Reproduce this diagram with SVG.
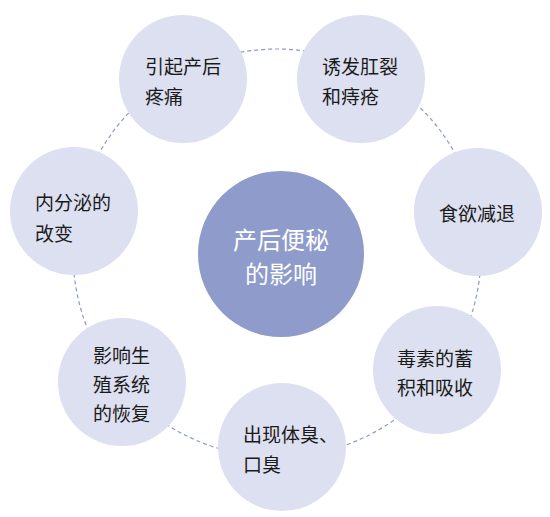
<svg xmlns="http://www.w3.org/2000/svg" width="550" height="517" viewBox="0 0 550 517">
<style>
.ring{fill:none;stroke:#8f99c9;stroke-width:1.2;stroke-dasharray:4 3}
.node{fill:#dde0f0}
.hub{fill:#8e9bcb}
.t{font-family:"Noto Sans CJK SC","Noto Sans",sans-serif;font-size:19px;fill:#1a1a1a;dominant-baseline:central}
.h{font-family:"Noto Sans CJK SC","Noto Sans",sans-serif;font-size:24px;fill:#ffffff;text-anchor:middle;dominant-baseline:central}
</style>
<rect width="550" height="517" fill="#ffffff"/>
<g id="connectors">
<circle class="ring" cx="277" cy="253" r="204"/>
</g>
<g id="center">
<circle class="hub" cx="281" cy="254" r="83"/>
<text class="h" x="281" y="238">产后便秘</text>
<text class="h" x="281" y="272">的影响</text>
</g>
<g id="n1">
<circle class="node" cx="183" cy="79" r="64"/>
<text class="t" x="145" y="65">引起产后</text>
<text class="t" x="145" y="95">疼痛</text>
</g>
<g id="n2">
<circle class="node" cx="361" cy="79" r="64"/>
<text class="t" x="322" y="65">诱发肛裂</text>
<text class="t" x="322" y="95">和痔疮</text>
</g>
<g id="n3">
<circle class="node" cx="478" cy="212" r="64"/>
<text class="t" x="439" y="212">食欲减退</text>
</g>
<g id="n4">
<circle class="node" cx="437" cy="370" r="64"/>
<text class="t" x="397" y="357">毒素的蓄</text>
<text class="t" x="397" y="386">积和吸收</text>
</g>
<g id="n5">
<circle class="node" cx="282" cy="447" r="64"/>
<text class="t" x="243" y="433">出现体臭、</text>
<text class="t" x="243" y="463">口臭</text>
</g>
<g id="n6">
<circle class="node" cx="122" cy="382" r="64"/>
<text class="t" x="93" y="354">影响生</text>
<text class="t" x="93" y="383">殖系统</text>
<text class="t" x="93" y="412">的恢复</text>
</g>
<g id="n7">
<circle class="node" cx="74" cy="211" r="64"/>
<text class="t" x="35" y="201">内分泌的</text>
<text class="t" x="35" y="232">改变</text>
</g>
</svg>
